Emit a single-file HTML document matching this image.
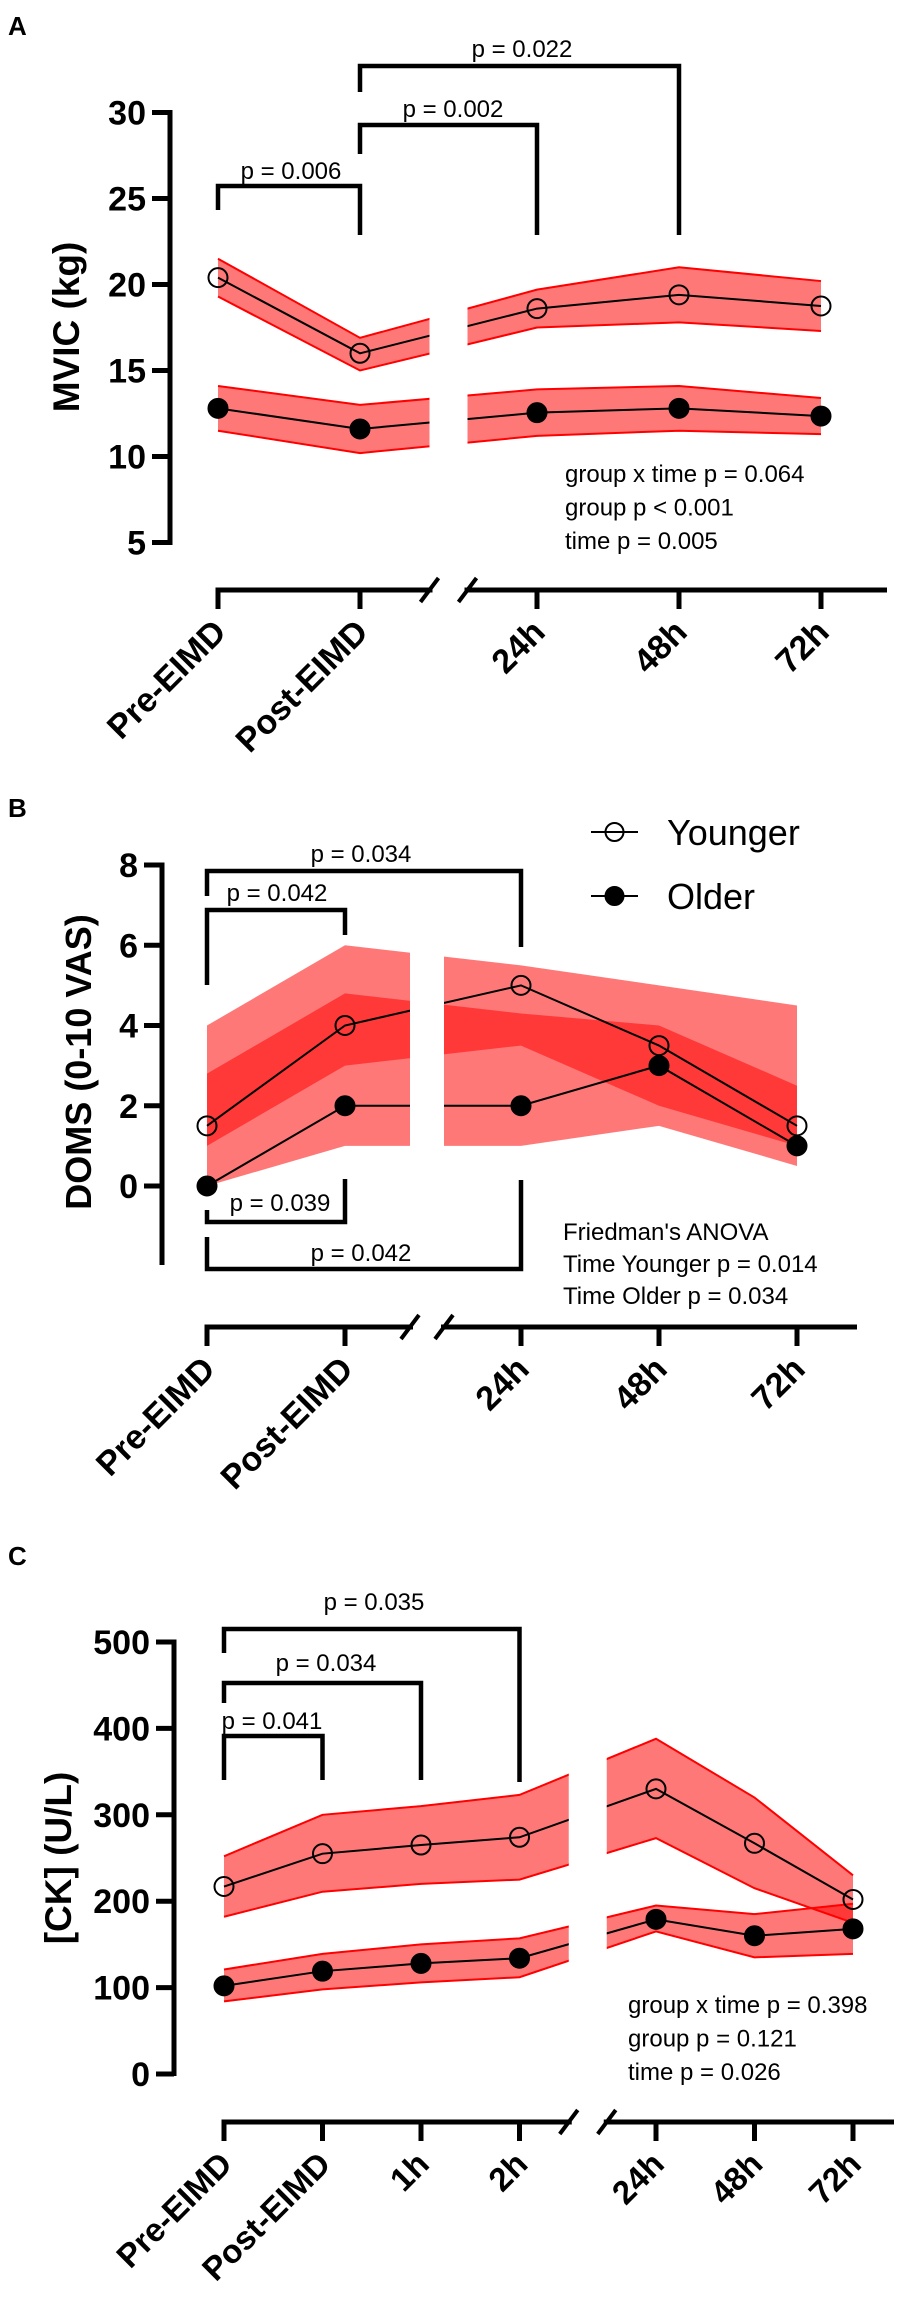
<!DOCTYPE html>
<html><head><meta charset="utf-8"><style>
html,body{margin:0;padding:0;background:#fff;}
svg{display:block;font-family:"Liberation Sans",Arial,sans-serif;}
</style></head><body>
<svg id="fig" width="900" height="2304" viewBox="0 0 900 2304" xmlns="http://www.w3.org/2000/svg">
<text x="8" y="35" font-size="26" font-weight="bold">A</text>
<text x="8" y="817" font-size="26" font-weight="bold">B</text>
<text x="8" y="1565" font-size="26" font-weight="bold">C</text>
</svg>
<script>
// ---- Panel A data (MVIC kg) ----
const aCategories = ["Pre-EIMD","Post-EIMD","24h","48h","72h"];
const aYTicks = [5,10,15,20,25,30];
const aYoung = [20.4,16.0,18.6,19.4,18.75];
const aYoungUpper = [21.5,16.9,19.7,21.0,20.2];
const aYoungLower = [19.3,15.0,17.5,17.8,17.3];
const aOld = [12.8,11.6,12.55,12.8,12.35];
const aOldUpper = [14.1,13.0,13.9,14.1,13.4];
const aOldLower = [11.5,10.2,11.2,11.5,11.3];
const aStats = ["group x time p = 0.064","group p < 0.001","time p = 0.005"];
// ---- Panel B data (DOMS) ----
const bCategories = ["Pre-EIMD","Post-EIMD","24h","48h","72h"];
const bYTicks = [0,2,4,6,8];
const bYoung = [1.5,4.0,5.0,3.5,1.5];
const bYoungUpper = [4.0,6.0,5.5,5.0,4.5];
const bYoungLower = [1.0,3.0,3.5,2.0,1.0];
const bOld = [0,2,2,3,1];
const bOldUpper = [2.8,4.8,4.3,4.0,2.5];
const bOldLower = [0,1.0,1.0,1.5,0.5];
const bStats = ["Friedman's ANOVA","Time Younger p = 0.014","Time Older p = 0.034"];
// ---- Panel C data (CK) ----
const cCategories = ["Pre-EIMD","Post-EIMD","1h","2h","24h","48h","72h"];
const cYTicks = [0,100,200,300,400,500];
const cYoung = [217,255,265,274,330,267,202];
const cYoungUpper = [252,300,310,323,388,320,230];
const cYoungLower = [182,211,220,225,273,215,175];
const cOld = [102,119,128,134,179,160,168];
const cOldUpper = [121,139,150,157,195,185,197];
const cOldLower = [84,98,106,112,165,135,139];
const cStats = ["group x time p = 0.398","group p = 0.121","time p = 0.026"];

const NS = "http://www.w3.org/2000/svg";
const svg = document.getElementById('fig');
function mk(tag, attrs, parent){
  const e = document.createElementNS(NS, tag);
  for (const k in attrs) e.setAttribute(k, attrs[k]);
  (parent||svg).appendChild(e);
  return e;
}

function panel(cfg){
  const g = mk('g', {});
  
  
  const y = v => cfg.y0 + (v - cfg.vmin) * (cfg.y1 - cfg.y0) / (cfg.vmax - cfg.vmin);
  const x = i => cfg.x0 + i * cfg.step + (i > cfg.breakIdx ? cfg.extra : 0);
  const gapC = (x(cfg.breakIdx) + x(cfg.breakIdx + 1)) / 2 + cfg.gapShift;
  const gs = gapC - cfg.gapHalf, ge = gapC + cfg.gapHalf;
  const cp = mk('clipPath', {id: cfg.id + '-clip'}, g);
  mk('rect', {x: 0, y: 0, width: gs, height: 2304}, cp);
  mk('rect', {x: ge, y: 0, width: 900 - ge, height: 2304}, cp);
  const dg = mk('g', {'clip-path': 'url(#' + cfg.id + '-clip)'}, g);
  
  
  // y axis
  const ya = mk('line', {x1: cfg.ax, x2: cfg.ax, y1: y(cfg.vmax) - 2.5, y2: cfg.axBottom, stroke: '#000', 'stroke-width': 5}, g);
  
  
  cfg.yTicks.forEach(t => {
    mk('line', {x1: cfg.ax - 18, x2: cfg.ax, y1: y(t), y2: y(t), stroke: '#000', 'stroke-width': 5}, g);
    const tl = mk('text', {x: cfg.ax - 24, y: y(t) + 12, 'text-anchor': 'end', 'font-size': 34, 'font-weight': 'bold'}, g);
    
    
    tl.textContent = t;
  });
  const yt = mk('text', {transform: 'translate(' + cfg.titleX + ',' + cfg.titleY + ') rotate(-90)', 'text-anchor': 'middle', 'font-size': cfg.titleSize, 'font-weight': 'bold'}, g);
  
  
  yt.textContent = cfg.title;
  // x axis
  const xa = mk('path', {d: 'M' + (x(0) - 2.5) + ' ' + cfg.xAxisY + ' H' + (gs + 3) + ' M' + (ge - 3) + ' ' + cfg.xAxisY + ' H' + cfg.xEnd, stroke: '#000', 'stroke-width': 5, fill: 'none'}, g);
  
  
  [gs, ge].forEach(px => {
    const sl = mk('line', {x1: px - 9, y1: cfg.xAxisY + 12, x2: px + 9, y2: cfg.xAxisY - 12, stroke: '#000', 'stroke-width': 4}, g);
    
    
  });
  cfg.cats.forEach((c, i) => {
    mk('line', {x1: x(i), x2: x(i), y1: cfg.xAxisY, y2: cfg.xAxisY + 19, stroke: '#000', 'stroke-width': 5}, g);
    const xl = mk('text', {transform: 'translate(' + (x(i) + 10) + ',' + (cfg.xAxisY + 44) + ') rotate(-45)', 'text-anchor': 'end', 'font-size': cfg.xSize, 'font-weight': 'bold'}, g);
    
    
    xl.textContent = c;
  });
  const bandPath = (up, lo) => {
    let d = 'M' + up.map((v, i) => x(i) + ' ' + y(v)).join(' L');
    for (let i = lo.length - 1; i >= 0; i--) d += ' L' + x(i) + ' ' + y(lo[i]);
    return d + 'Z';
  };
  const linePath = arr => 'M' + arr.map((v, i) => x(i) + ' ' + y(v)).join(' L');
  const bands = [[cfg.yu, cfg.yl, 'young'], [cfg.ou, cfg.ol, 'old']];
  bands.forEach(b => {
    const p = mk('path', {d: bandPath(b[0], b[1]), fill: 'rgba(255,0,0,0.53)', stroke: 'none'}, dg);
    
    
    if (cfg.edge) {
      mk('path', {d: linePath(b[0]), fill: 'none', stroke: '#f00', 'stroke-width': 2}, dg);
      mk('path', {d: linePath(b[1]), fill: 'none', stroke: '#f00', 'stroke-width': 2}, dg);
    }
  });
  [[cfg.young, 'young'], [cfg.old, 'old']].forEach(s => {
    const l = mk('path', {d: linePath(s[0]), fill: 'none', stroke: '#000', 'stroke-width': 2}, dg);
    
    
  });
  [[cfg.young, 'young'], [cfg.old, 'old']].forEach(s => {
    s[0].forEach((v, i) => {
      const m = mk('circle', {cx: x(i), cy: y(v), r: 9.5, fill: s[1] === 'old' ? '#000' : 'none', stroke: '#000', 'stroke-width': 2}, dg);
      
      
    });
  });
  cfg.brackets.forEach(b => {
    const [i1, i2, hy, l1, l2, label, lx, ly] = b;
    const bp = mk('path', {d: 'M' + x(i1) + ' ' + l1 + ' V' + hy + ' H' + x(i2) + ' V' + l2, fill: 'none', stroke: '#000', 'stroke-width': 4.5}, g);
    
    
    const bt = mk('text', {x: lx, y: ly, 'text-anchor': 'middle', 'font-size': 24}, g);
    
    
    bt.textContent = label;
  });
  cfg.stats.forEach((s, i) => {
    const st = mk('text', {x: cfg.statX, y: cfg.statY + i * cfg.statDy, 'font-size': 24}, g);
    
    
    st.textContent = s;
  });
}

panel({id: 'panel-a', cats: aCategories, yTicks: aYTicks, vmin: 5, vmax: 30, y0: 542.5, y1: 112.5,
  ax: 170, axBottom: 545, x0: 218, step: 142, breakIdx: 1, extra: 35, gapShift: 0, gapHalf: 19,
  xAxisY: 590, xEnd: 887, xSize: 34, title: 'MVIC (kg)', titleX: 79, titleY: 327, titleSize: 37,
  young: aYoung, yu: aYoungUpper, yl: aYoungLower, old: aOld, ou: aOldUpper, ol: aOldLower, edge: true,
  brackets: [[0, 1, 186, 210, 235, 'p = 0.006', 291, 179], [1, 2, 125, 154, 235, 'p = 0.002', 453, 117], [1, 3, 66, 92, 235, 'p = 0.022', 522, 57]],
  stats: aStats, statX: 565, statY: 482, statDy: 33.5});

panel({id: 'panel-b', cats: bCategories, yTicks: bYTicks, vmin: 0, vmax: 8, y0: 1186, y1: 865,
  ax: 162, axBottom: 1265, x0: 207, step: 138, breakIdx: 1, extra: 38, gapShift: -6, gapHalf: 17,
  xAxisY: 1327, xEnd: 857, xSize: 34, title: 'DOMS (0-10 VAS)', titleX: 91, titleY: 1062, titleSize: 36,
  young: bYoung, yu: bYoungUpper, yl: bYoungLower, old: bOld, ou: bOldUpper, ol: bOldLower, edge: false,
  brackets: [[0, 2, 871, 896, 947, 'p = 0.034', 361, 862], [0, 1, 910, 985, 935, 'p = 0.042', 277, 901],
             [0, 1, 1222, 1210, 1179, 'p = 0.039', 280, 1211], [0, 2, 1269, 1237, 1180, 'p = 0.042', 361, 1261]],
  stats: bStats, statX: 563, statY: 1240, statDy: 32});

panel({id: 'panel-c', cats: cCategories, yTicks: cYTicks, vmin: 0, vmax: 500, y0: 2074, y1: 1642,
  ax: 174, axBottom: 2076, x0: 224, step: 98.5, breakIdx: 3, extra: 38, gapShift: 0, gapHalf: 19,
  xAxisY: 2122, xEnd: 894, xSize: 33, title: '[CK] (U/L)', titleX: 71, titleY: 1858, titleSize: 37,
  young: cYoung, yu: cYoungUpper, yl: cYoungLower, old: cOld, ou: cOldUpper, ol: cOldLower, edge: true,
  brackets: [[0, 3, 1629, 1653, 1782, 'p = 0.035', 374, 1610], [0, 2, 1683, 1703, 1780, 'p = 0.034', 326, 1671], [0, 1, 1736, 1780, 1780, 'p = 0.041', 272, 1729]],
  stats: cStats, statX: 628, statY: 2013, statDy: 33.5});

const lg = mk('g', {});


[['Younger', 832, 'none'], ['Older', 896, '#000']].forEach(e => {
  const le = mk('g', {}, lg);
  
  
  mk('line', {x1: 591, x2: 638, y1: e[1], y2: e[1], stroke: '#000', 'stroke-width': 2}, le);
  mk('circle', {cx: 614.5, cy: e[1], r: 9, fill: e[2], stroke: '#000', 'stroke-width': 2}, le);
  const t = mk('text', {x: 667, y: e[1] + 13, 'font-size': 36}, le);
  t.textContent = e[0];
});
</script>
</body></html>
